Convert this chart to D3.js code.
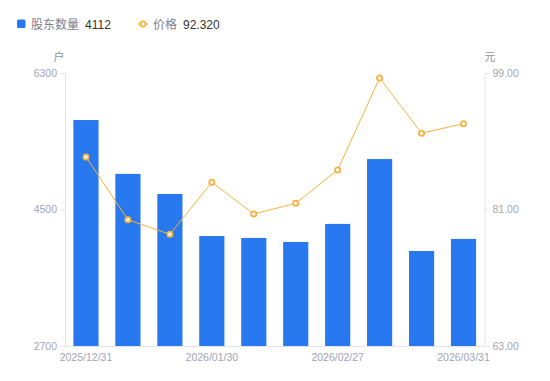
<!DOCTYPE html>
<html><head><meta charset="utf-8">
<script src="https://cdn.jsdelivr.net/npm/d3@7"></script>
<style>
body{margin:0;background:#fff;font-family:"Noto Sans CJK SC","Noto Sans",sans-serif;}
svg{display:block}
</style></head>
<body><svg id="c" width="550" height="381"></svg>
<script>
const dates = ["2025/12/31","2026/01/09","2026/01/20","2026/01/30","2026/02/06","2026/02/13","2026/02/27","2026/03/06","2026/03/20","2026/03/31"];
const holders = [5680, 4970, 4705, 4150, 4125, 4072, 4310, 5165, 3953, 4112];
const prices = [87.93, 79.66, 77.73, 84.59, 80.41, 81.82, 86.21, 98.35, 91.06, 92.32];
const leftTicks = [2700, 4500, 6300];
const rightTicks = [63, 81, 99];
const shownLabels = ["2025/12/31","2026/01/30","2026/02/27","2026/03/31"];

const svg = d3.select("#c");
const m = {l:65, r:484.5, t:73, b:346};
const x = d3.scaleBand().domain(dates).range([m.l, m.r]).paddingInner(0.4).paddingOuter(0.2);
const yL = d3.scaleLinear().domain([2700, 6300]).range([m.b, m.t]);
const yR = d3.scaleLinear().domain([63, 99]).range([m.b, m.t]);
const axisColor = "#e3e3e8", tickText = "#a3a3b3";
const latin = "'Liberation Sans', Arial, sans-serif";

// bars
svg.append("g").selectAll("rect").data(holders).join("rect")
  .attr("x", (d,i)=>x(dates[i]))
  .attr("y", d=>yL(d))
  .attr("width", x.bandwidth())
  .attr("height", d=>m.b - yL(d))
  .attr("fill", "#2878f0");

// axes
const gL = svg.append("g").attr("transform", `translate(${m.l},0)`)
  .call(d3.axisLeft(yL).tickValues(leftTicks).tickSize(5).tickPadding(3).tickFormat(d3.format("d")));
const gR = svg.append("g").attr("transform", `translate(${m.r},0)`)
  .call(d3.axisRight(yR).tickValues(rightTicks).tickSize(5).tickPadding(3).tickFormat(d3.format(".2f")));
const gB = svg.append("g").attr("transform", `translate(0,${m.b})`)
  .call(d3.axisBottom(x).tickValues(shownLabels).tickSize(0).tickPadding(8));
gB.select(".domain").attr("d", `M${m.l-5},0.5H${m.r+5}`);
[gL,gR,gB].forEach(g=>{
  g.select(".domain").attr("stroke", axisColor);
  g.selectAll(".tick line").attr("stroke", axisColor);
  g.selectAll(".tick text").attr("fill", tickText).style("font-size","10.5px").style("font-family", latin);
});

// line
const line = d3.line().x((d,i)=>x(dates[i]) + x.bandwidth()/2).y(d=>yR(d));
svg.append("path").datum(prices).attr("d", line).attr("fill","none").attr("stroke","#f8b23c").attr("stroke-width",1);
svg.append("g").selectAll("circle").data(prices).join("circle")
  .attr("cx",(d,i)=>x(dates[i]) + x.bandwidth()/2).attr("cy", d=>yR(d)).attr("r",2.6)
  .attr("fill","#fff").attr("stroke","#f8b23c").attr("stroke-width",1.8);

// unit labels
svg.append("text").attr("x",59).attr("y",61).attr("text-anchor","middle").attr("fill","#8e8e9e").style("font-size","11px").text("户");
svg.append("text").attr("x",490).attr("y",61).attr("text-anchor","middle").attr("fill","#8e8e9e").style("font-size","11px").text("元");

// legend
const lg = svg.append("g");
lg.append("rect").attr("x",17).attr("y",19.5).attr("width",8.5).attr("height",8.5).attr("rx",1.5).attr("fill","#2878f0");
lg.append("text").attr("x",31).attr("y",28.5).attr("fill","#80808e").style("font-size","12px").text("股东数量");
lg.append("text").attr("x",85).attr("y",28.5).attr("fill","#333").style("font-size","12px").style("font-family", latin).text(holders[holders.length-1]);
lg.append("line").attr("x1",138).attr("x2",148).attr("y1",24).attr("y2",24).attr("stroke","#f8b23c").attr("stroke-width",1.5);
lg.append("circle").attr("cx",143).attr("cy",24).attr("r",2.6).attr("fill","#fff").attr("stroke","#f8b23c").attr("stroke-width",1.8);
lg.append("text").attr("x",153).attr("y",28.5).attr("fill","#80808e").style("font-size","12px").text("价格");
lg.append("text").attr("x",183).attr("y",28.5).attr("fill","#333").style("font-size","12px").style("font-family", latin).text(d3.format(".3f")(prices[prices.length-1]));
</script></body></html>
